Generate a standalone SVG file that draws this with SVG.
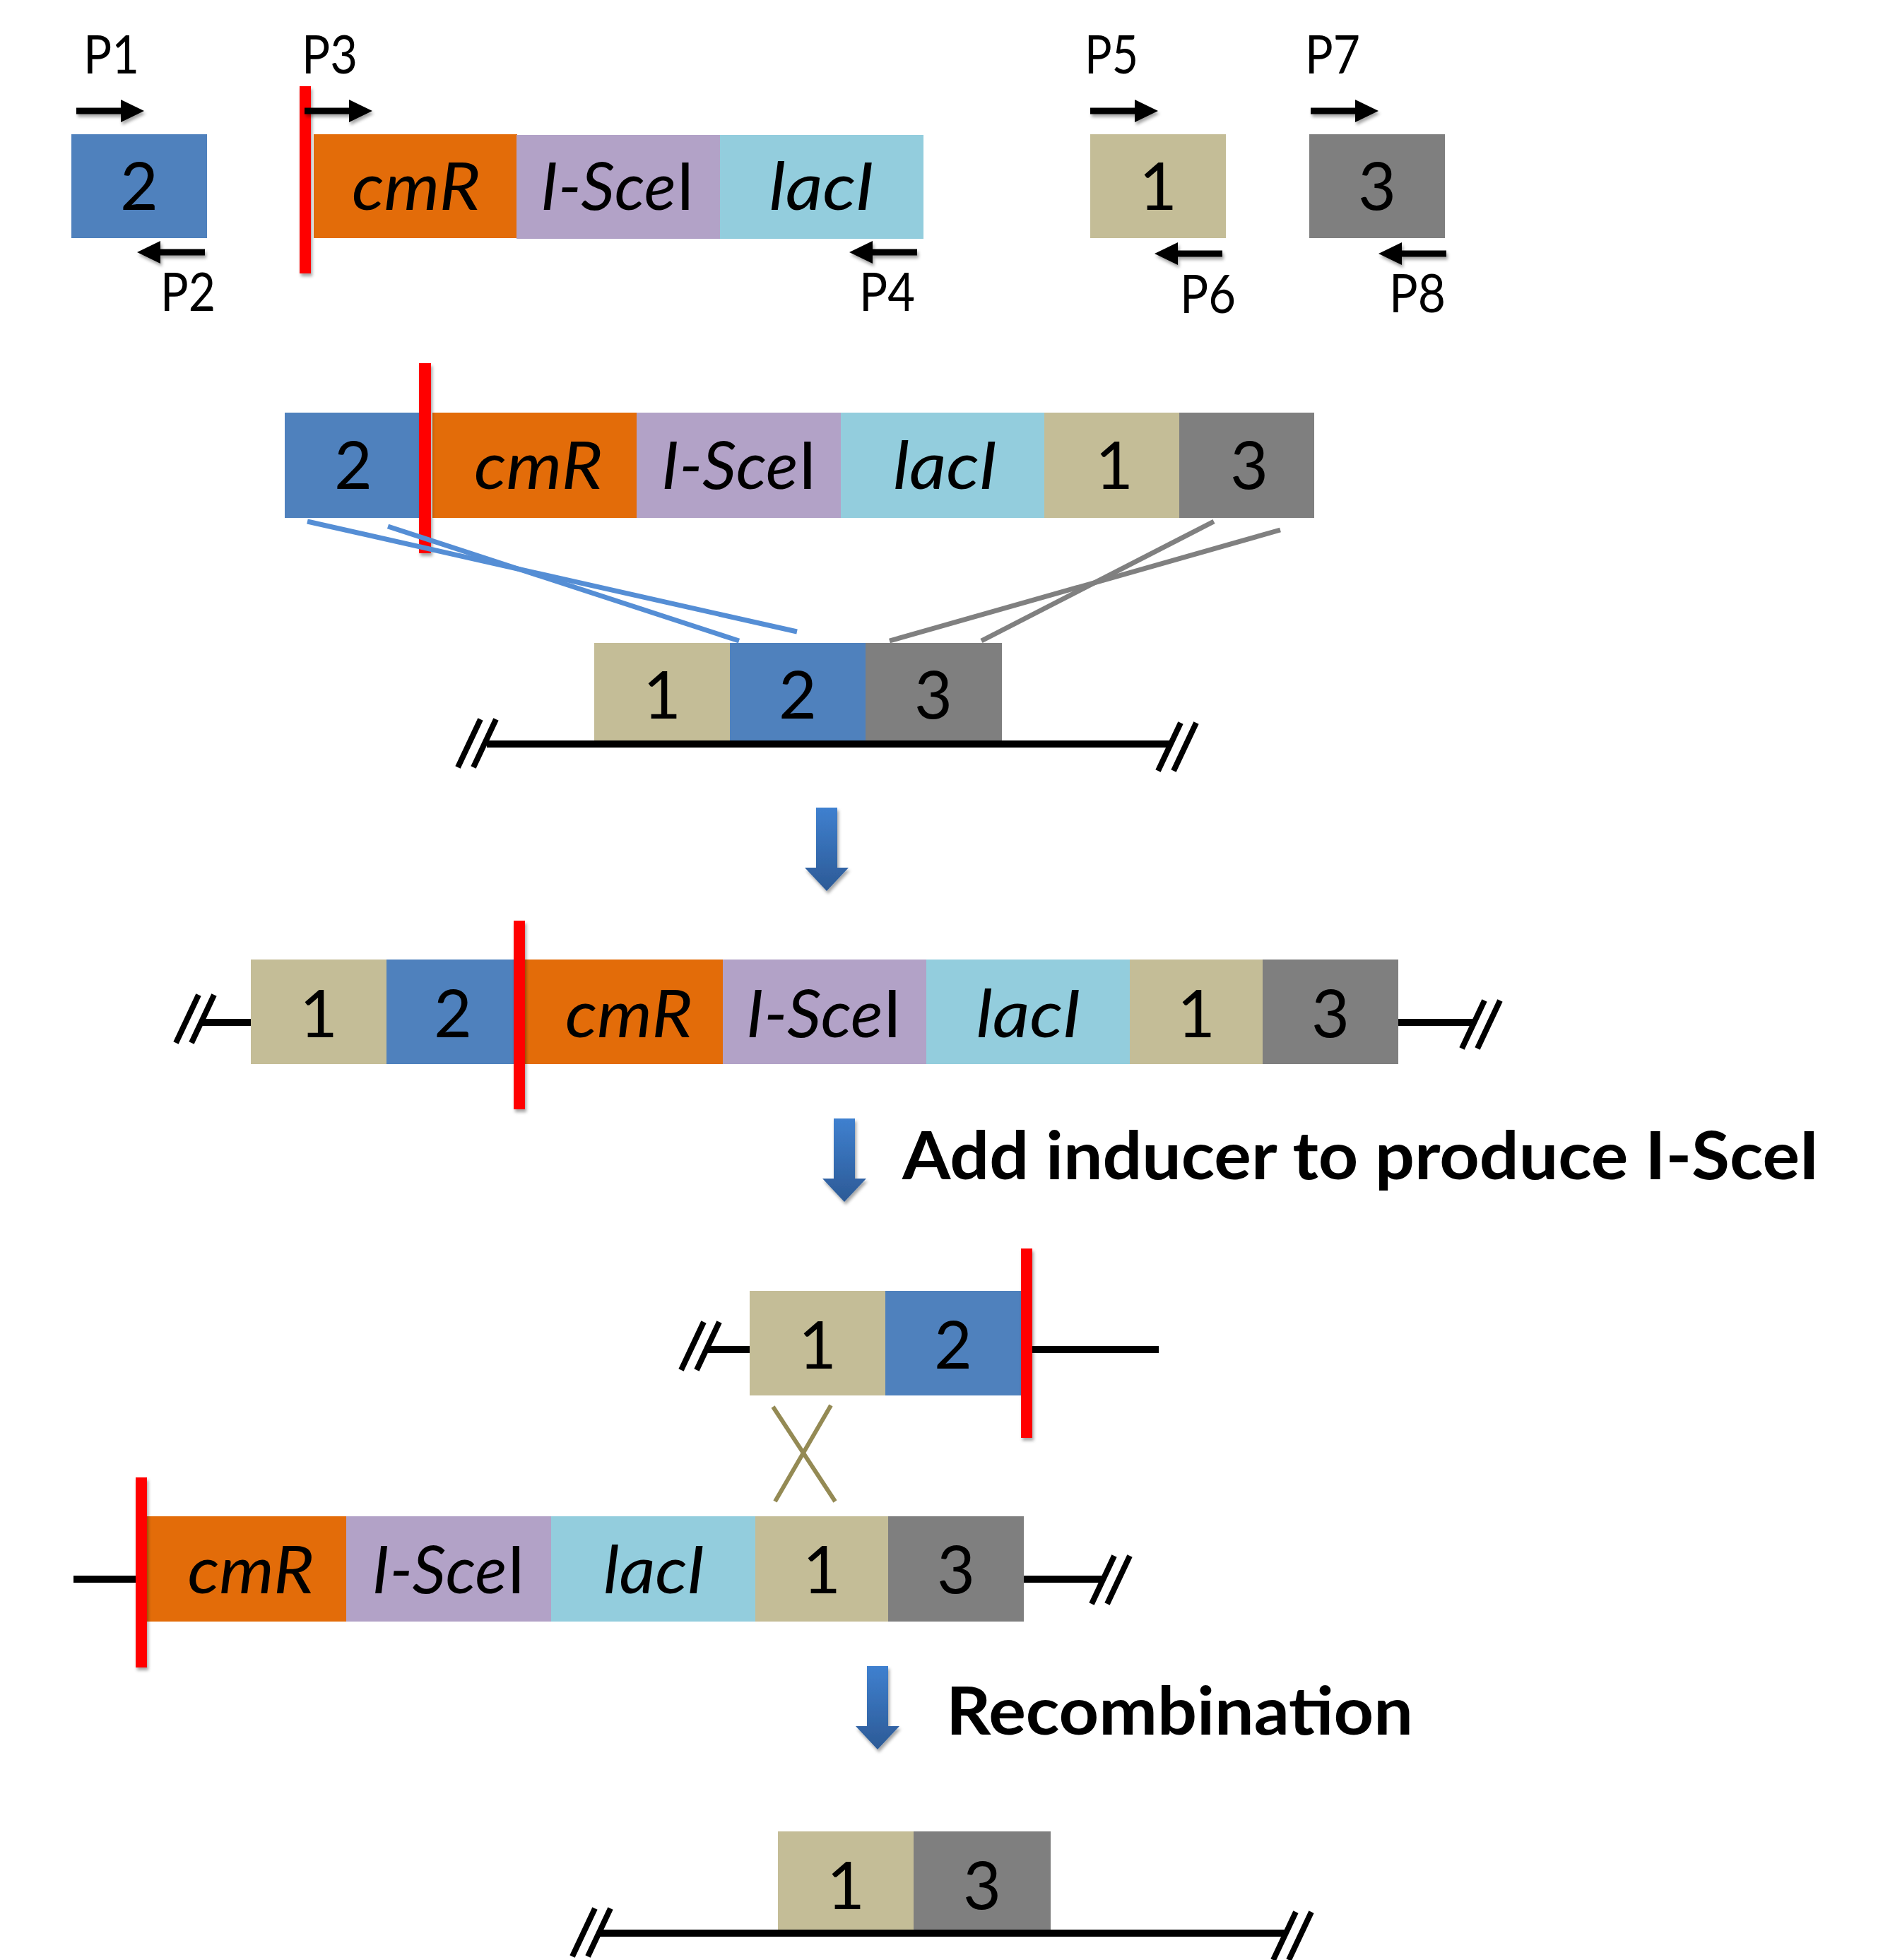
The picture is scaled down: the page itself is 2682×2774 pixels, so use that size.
<svg xmlns="http://www.w3.org/2000/svg" width="2682" height="2774" viewBox="0 0 2682 2774">
<style>
text{font-family:Lato,"Open Sans","Liberation Sans",sans-serif;fill:#000}
.num{font-size:93px;text-anchor:middle}
.gene{font-size:93px;text-anchor:middle;font-style:italic}
.up{font-style:normal}
.pl{font-size:75px}
.big{font-size:93px;font-weight:bold}
.c2{fill:#4F81BD}.c1{fill:#C4BD97}.c3{fill:#7F7F7F}.cm{fill:#E36C09}.sc{fill:#B2A2C7}.la{fill:#93CDDD}
.red{fill:#FF0000;filter:url(#sh)}
.pr{fill:#000;filter:url(#sh)}
.dna{stroke:#000;stroke-width:10;fill:none}
.sl{stroke:#000;stroke-width:8;fill:none}
.bl{stroke:#558ED5;stroke-width:7}
.gl{stroke:#808080;stroke-width:7}
.ol{stroke:#948A54;stroke-width:6}
.ba{fill:url(#bg);filter:url(#sh)}
</style>
<defs>
<filter id="sh" x="-50%" y="-50%" width="200%" height="200%"><feDropShadow dx="2" dy="4" stdDeviation="2" flood-color="#000" flood-opacity="0.35"/></filter>
<linearGradient id="bg" x1="0" y1="0" x2="0" y2="1"><stop offset="0" stop-color="#3F80CF"/><stop offset="1" stop-color="#2C5A96"/></linearGradient>
<path id="ra" d="M0,-4.5H63V-16L96,0L63,16V4.5H0Z"/>
<path id="la" d="M96,-4.5H33V-16L0,0L33,16V4.5H96Z"/>
<path id="ba" d="M-15,0H15V85H31L0,118L-31,85H-15Z"/>
<g id="brk"><line x1="5" y1="-34" x2="-27" y2="34"/><line x1="27" y1="-34" x2="-5" y2="34"/></g>
</defs>
<rect width="2682" height="2774" fill="#fff"/>

<g id="row1-frag2">
<rect class="c2" x="101" y="190" width="192" height="147"/>
<text class="num" x="197" y="297">2</text>
<use href="#ra" class="pr" x="108" y="157"/>
<use href="#la" class="pr" x="194" y="357"/>
<text class="pl" x="118" y="104" textLength="79" lengthAdjust="spacingAndGlyphs">P1</text>
<text class="pl" x="227" y="440" textLength="78" lengthAdjust="spacingAndGlyphs">P2</text>
</g>

<g id="row1-cassette">
<rect class="cm" x="444" y="190" width="288" height="147"/>
<rect class="sc" x="731" y="191" width="289" height="147"/>
<rect class="la" x="1019" y="191" width="288" height="147"/>
<text class="gene" x="589" y="297" textLength="182" lengthAdjust="spacingAndGlyphs">cmR</text>
<text class="gene" x="874" y="297" textLength="218" lengthAdjust="spacingAndGlyphs">I-Sce<tspan class="up">I</tspan></text>
<text class="gene" x="1163" y="297" textLength="149" lengthAdjust="spacingAndGlyphs">lacI</text>
<rect class="red" x="424" y="122" width="16" height="265"/>
<use href="#ra" class="pr" x="431" y="157"/>
<use href="#la" class="pr" x="1202" y="357"/>
<text class="pl" x="427" y="104" textLength="79" lengthAdjust="spacingAndGlyphs">P3</text>
<text class="pl" x="1216" y="440" textLength="79" lengthAdjust="spacingAndGlyphs">P4</text>
</g>

<g id="row1-frag1">
<rect class="c1" x="1543" y="190" width="192" height="147"/>
<text class="num" x="1639" y="297">1</text>
<use href="#ra" class="pr" x="1543" y="157"/>
<use href="#la" class="pr" x="1634" y="359"/>
<text class="pl" x="1535" y="104" textLength="76" lengthAdjust="spacingAndGlyphs">P5</text>
<text class="pl" x="1670" y="443" textLength="79" lengthAdjust="spacingAndGlyphs">P6</text>
</g>

<g id="row1-frag3">
<rect class="c3" x="1853" y="190" width="192" height="147"/>
<text class="num" x="1949" y="297">3</text>
<use href="#ra" class="pr" x="1855" y="157"/>
<use href="#la" class="pr" x="1951" y="359"/>
<text class="pl" x="1847" y="104" textLength="78" lengthAdjust="spacingAndGlyphs">P7</text>
<text class="pl" x="1966" y="442" textLength="80" lengthAdjust="spacingAndGlyphs">P8</text>
</g>

<g id="row2-construct">
<rect class="c2" x="403" y="584" width="192" height="149"/>
<rect class="cm" x="612" y="584" width="289" height="149"/>
<rect class="sc" x="901" y="584" width="289" height="149"/>
<rect class="la" x="1190" y="584" width="288" height="149"/>
<rect class="c1" x="1478" y="584" width="191" height="149"/>
<rect class="c3" x="1669" y="584" width="191" height="149"/>
<text class="num" x="500" y="692">2</text>
<text class="gene" x="762" y="692" textLength="182" lengthAdjust="spacingAndGlyphs">cmR</text>
<text class="gene" x="1046" y="692" textLength="220" lengthAdjust="spacingAndGlyphs">I-Sce<tspan class="up">I</tspan></text>
<text class="gene" x="1338" y="692" textLength="148" lengthAdjust="spacingAndGlyphs">lacI</text>
<text class="num" x="1577" y="692">1</text>
<text class="num" x="1768" y="692">3</text>
<rect class="red" x="593" y="514" width="17" height="269"/>
</g>

<g id="row3-genome">
<line class="dna" x1="689" y1="1053" x2="1658" y2="1053"/>
<use href="#brk" class="sl" x="675" y="1052"/>
<use href="#brk" class="sl" x="1666" y="1057"/>
<rect class="c1" x="841" y="910" width="192" height="138"/>
<rect class="c2" x="1033" y="910" width="192" height="138"/>
<rect class="c3" x="1225" y="910" width="193" height="138"/>
<text class="num" x="937" y="1017">1</text>
<text class="num" x="1129" y="1017">2</text>
<text class="num" x="1321" y="1017">3</text>
</g>

<g id="row4-integrated">
<line class="dna" x1="285" y1="1447" x2="356" y2="1447"/>
<line class="dna" x1="1978" y1="1447" x2="2085" y2="1447"/>
<use href="#brk" class="sl" x="276" y="1442"/>
<use href="#brk" class="sl" x="2096" y="1450"/>
<rect class="c1" x="355" y="1358" width="192" height="148"/>
<rect class="c2" x="547" y="1358" width="189" height="148"/>
<rect class="cm" x="735" y="1358" width="288" height="148"/>
<rect class="sc" x="1023" y="1358" width="288" height="148"/>
<rect class="la" x="1311" y="1358" width="288" height="148"/>
<rect class="c1" x="1599" y="1358" width="188" height="148"/>
<rect class="c3" x="1787" y="1358" width="192" height="148"/>
<text class="num" x="451" y="1468">1</text>
<text class="num" x="641" y="1468">2</text>
<text class="gene" x="890" y="1468" textLength="180" lengthAdjust="spacingAndGlyphs">cmR</text>
<text class="gene" x="1166" y="1468" textLength="220" lengthAdjust="spacingAndGlyphs">I-Sce<tspan class="up">I</tspan></text>
<text class="gene" x="1456" y="1468" textLength="149" lengthAdjust="spacingAndGlyphs">lacI</text>
<text class="num" x="1693" y="1468">1</text>
<text class="num" x="1883" y="1468">3</text>
<rect class="red" x="727" y="1303" width="16" height="267"/>
</g>

<g id="label-inducer">
<text class="big" x="1277" y="1669" textLength="1298" lengthAdjust="spacingAndGlyphs">Add inducer to produce I-SceI</text>
</g>

<g id="row6-cut">
<line class="dna" x1="1002" y1="1910" x2="1062" y2="1910"/>
<line class="dna" x1="1444" y1="1910" x2="1640" y2="1910"/>
<use href="#brk" class="sl" x="991" y="1905"/>
<rect class="c1" x="1061" y="1827" width="192" height="148"/>
<rect class="c2" x="1253" y="1827" width="192" height="148"/>
<text class="num" x="1157" y="1937">1</text>
<text class="num" x="1349" y="1937">2</text>
<rect class="red" x="1445" y="1767" width="16" height="268"/>
</g>

<g id="row7-cut">
<line class="dna" x1="104" y1="2235" x2="210" y2="2235"/>
<line class="dna" x1="1448" y1="2235" x2="1561" y2="2235"/>
<use href="#brk" class="sl" x="1572" y="2236"/>
<rect class="cm" x="208" y="2146" width="282" height="149"/>
<rect class="sc" x="490" y="2146" width="290" height="149"/>
<rect class="la" x="780" y="2146" width="289" height="149"/>
<rect class="c1" x="1069" y="2146" width="188" height="149"/>
<rect class="c3" x="1257" y="2146" width="192" height="149"/>
<text class="gene" x="355" y="2255" textLength="179" lengthAdjust="spacingAndGlyphs">cmR</text>
<text class="gene" x="635" y="2255" textLength="217" lengthAdjust="spacingAndGlyphs">I-Sce<tspan class="up">I</tspan></text>
<text class="gene" x="926" y="2255" textLength="144" lengthAdjust="spacingAndGlyphs">lacI</text>
<text class="num" x="1163" y="2255">1</text>
<text class="num" x="1353" y="2255">3</text>
<rect class="red" x="192" y="2091" width="16" height="269"/>
</g>

<g id="label-recombination">
<text class="big" x="1339" y="2455" textLength="661" lengthAdjust="spacingAndGlyphs">Recombination</text>
</g>

<g id="row8-result">
<line class="dna" x1="848" y1="2736" x2="1818" y2="2736"/>
<use href="#brk" class="sl" x="837" y="2735"/>
<use href="#brk" class="sl" x="1829" y="2740"/>
<rect class="c1" x="1101" y="2592" width="192" height="139"/>
<rect class="c3" x="1293" y="2592" width="194" height="139"/>
<text class="num" x="1197" y="2702">1</text>
<text class="num" x="1390" y="2702">3</text>
</g>

<g id="connectors">
<line class="bl" x1="435" y1="738" x2="1128" y2="894"/>
<line class="bl" x1="549" y1="745" x2="1046" y2="907"/>
<line class="gl" x1="1718" y1="738" x2="1389" y2="907"/>
<line class="gl" x1="1812" y1="750" x2="1259" y2="907"/>
<line class="ol" x1="1094" y1="1991" x2="1182" y2="2125"/>
<line class="ol" x1="1176" y1="1989" x2="1097" y2="2125"/>
<use href="#ba" class="ba" transform="translate(1170,1143)"/>
<use href="#ba" class="ba" transform="translate(1195,1583)"/>
<use href="#ba" class="ba" transform="translate(1242,2358)"/>
</g>
</svg>
